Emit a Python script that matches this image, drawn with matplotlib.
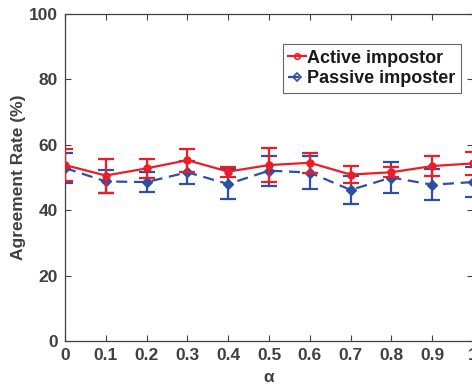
import numpy as np
import matplotlib
matplotlib.use("Agg")
import matplotlib.pyplot as plt
from matplotlib.lines import Line2D

# values
alpha = [0.0, 0.1, 0.2, 0.3, 0.4, 0.5, 0.6, 0.7, 0.8, 0.9, 1.0]
active = [53.8, 50.6, 52.8, 55.3, 51.8, 53.8, 54.5, 50.9, 51.6, 53.5, 54.3]
active_err = [4.9, 5.2, 2.8, 3.5, 1.5, 5.1, 3.1, 2.6, 1.5, 3.0, 3.5]
passive = [52.9, 48.8, 48.6, 51.6, 48.0, 52.1, 51.5, 46.2, 50.0, 47.8, 48.6]
passive_err = [4.7, 3.4, 3.1, 3.5, 4.5, 4.6, 5.0, 4.2, 4.6, 4.8, 4.7]
xtick_labels = ["0", "0.1", "0.2", "0.3", "0.4", "0.5", "0.6", "0.7", "0.8", "0.9", "1"]

plt.rcParams["font.family"] = ["Liberation Sans", "DejaVu Sans"]
plt.rcParams["font.weight"] = "bold"

red = "#ee1d25"
blue = "#2f4fa5"
gray = "#404040"
dash = (0, (5, 3))

fig = plt.figure(figsize=(4.72, 3.89), dpi=100)
ax = fig.add_axes([65 / 472, 48 / 389, 408 / 472, 327 / 389])

ax.errorbar(alpha, active, yerr=active_err, color=red, linewidth=1.6,
             marker="o", markersize=5, capsize=6, capthick=1.6, elinewidth=1.6,
             zorder=3)
ax.errorbar(alpha, passive, yerr=passive_err, color=blue, linewidth=1.6,
             linestyle=dash, marker="D", markersize=5, capsize=6,
             capthick=1.6, elinewidth=1.6, zorder=2)

ax.set_xlim(0, 1)
ax.set_ylim(0, 100)
ax.set_xticks(alpha)
ax.set_xticklabels(xtick_labels)
ax.set_yticks([0, 20, 40, 60, 80, 100])

ax.tick_params(direction="in", length=4, width=0.8, top=True, right=True,
               colors=gray, labelsize=12.5, pad=5)
for lab in ax.get_xticklabels() + ax.get_yticklabels():
    lab.set_fontweight("bold")
for s in ax.spines.values():
    s.set_color(gray)
    s.set_linewidth(0.9)

ax.set_xlabel("α", fontsize=12.5, fontweight="bold", color=gray, labelpad=5)
ax.set_ylabel("Agreement Rate (%)", fontsize=12.5, fontweight="bold", color=gray, labelpad=2)

handles = [
    Line2D([], [], color=red, linewidth=1.6, marker="o", markersize=4,
           markerfacecolor="none", markeredgewidth=1.2),
    Line2D([], [], color=blue, linewidth=1.6, linestyle=dash, marker="D", markersize=4,
           markerfacecolor="none", markeredgewidth=1.2),
]
leg = ax.legend(handles, ["Active impostor", "Passive imposter"],
                loc="upper left", bbox_to_anchor=((283 - 65) / 408, 0.908), borderaxespad=0,
                fontsize=13, handlelength=1.0, handletextpad=0.05, borderpad=0.3,
                labelspacing=0.2, fancybox=False)
leg.get_frame().set_edgecolor(gray)
leg.get_frame().set_linewidth(0.8)
for t in leg.get_texts():
    t.set_fontweight("bold")
    t.set_color("#1a1a1a")

fig.savefig("out.png", dpi=100)
